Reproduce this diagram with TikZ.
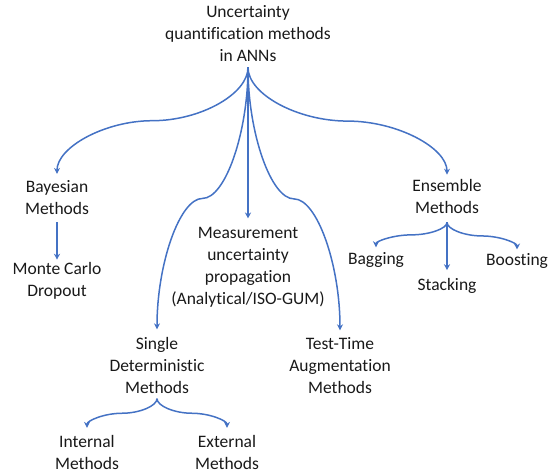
\documentclass[tikz,border=0pt]{standalone}
\usepackage{fontspec}
\setmainfont{Carlito}[Ligatures=NoCommon]
\usetikzlibrary{arrows.meta,calc}
\definecolor{linkblue}{HTML}{4472C4}
\begin{document}
\begin{tikzpicture}[x=1pt,y=-1pt,
  every node/.style={font=\fontsize{17.5}{22}\selectfont, align=center,
    inner sep=0pt, outer sep=0pt, text=black!90},
  conn/.style={draw=linkblue, line width=1.5pt,
    -{Stealth[length=6pt,width=6pt]}},
  % two half-curves meeting with a horizontal tangent at the midpoint
  elbow/.style={to path={
    let \p1=(\tikztostart), \p2=(\tikztotarget),
        \p3=({0.5*(\x1+\x2)},{0.5*(\y1+\y2)}) in
    .. controls (\x1,{0.5*(\y1+\y3)}) and ({0.5*(\x1+\x3)},\y3) .. (\p3)
    .. controls ({0.5*(\x3+\x2)},\y3) and (\x2,{0.5*(\y3+\y2)}) .. (\p2)}}]
\useasboundingbox (0,0) rectangle (552,474);

% text nodes
\node (root)   at (248,33.4)  {Uncertainty\\quantification methods\\in ANNs};
\node (bayes)  at (57,198)    {Bayesian\\Methods};
\node (mc)     at (57,280.7)  {Monte Carlo\\Dropout};
\node (meas)   at (248,267)   {Measurement\\uncertainty\\propagation\\(Analytical/ISO-GUM)};
\node (single) at (157,365.5) {Single\\Deterministic\\Methods};
\node (tta)    at (340,365.4) {Test-Time\\Augmentation\\Methods};
\node (ens)    at (447,196.8) {Ensemble\\Methods};
\node (bag)    at (376,259.8) {Bagging};
\node (stack)  at (447,285.8) {Stacking};
\node (boost)  at (517,261)   {Boosting};
\node (int)    at (87,452)    {Internal\\Methods};
\node (ext)    at (227,452)   {External\\Methods};

% branching points
\coordinate (hub)    at ([yshift=-6pt]root.south);
\coordinate (ensout) at ([yshift=-8.5pt]ens.south);
\coordinate (sdout)  at ([yshift=-5pt]single.south);

% connectors from the root
\draw[conn] (hub) to[elbow] ([yshift=7pt]bayes.north);
\draw[conn] (hub) to[elbow] ([yshift=8pt]single.north);
\draw[conn] (hub) -- ([yshift=8.5pt]meas.north);
\draw[conn] (hub) to[elbow] ([yshift=7pt]tta.north);
\draw[conn] (hub) to[elbow] ([yshift=5pt]ens.north);

% sub-branches
\draw[conn] ([yshift=-7pt]bayes.south) -- ([yshift=2.5pt]mc.north);
\draw[conn] (ensout) to[elbow] ([yshift=5pt]bag.north);
\draw[conn] (ensout) -- ([yshift=8pt]stack.north);
\draw[conn] (ensout) to[elbow] ([yshift=4pt]boost.north);
\draw[conn] (sdout) to[elbow] ([yshift=7pt]int.north);
\draw[conn] (sdout) to[elbow] ([yshift=7pt]ext.north);
\end{tikzpicture}
\end{document}
